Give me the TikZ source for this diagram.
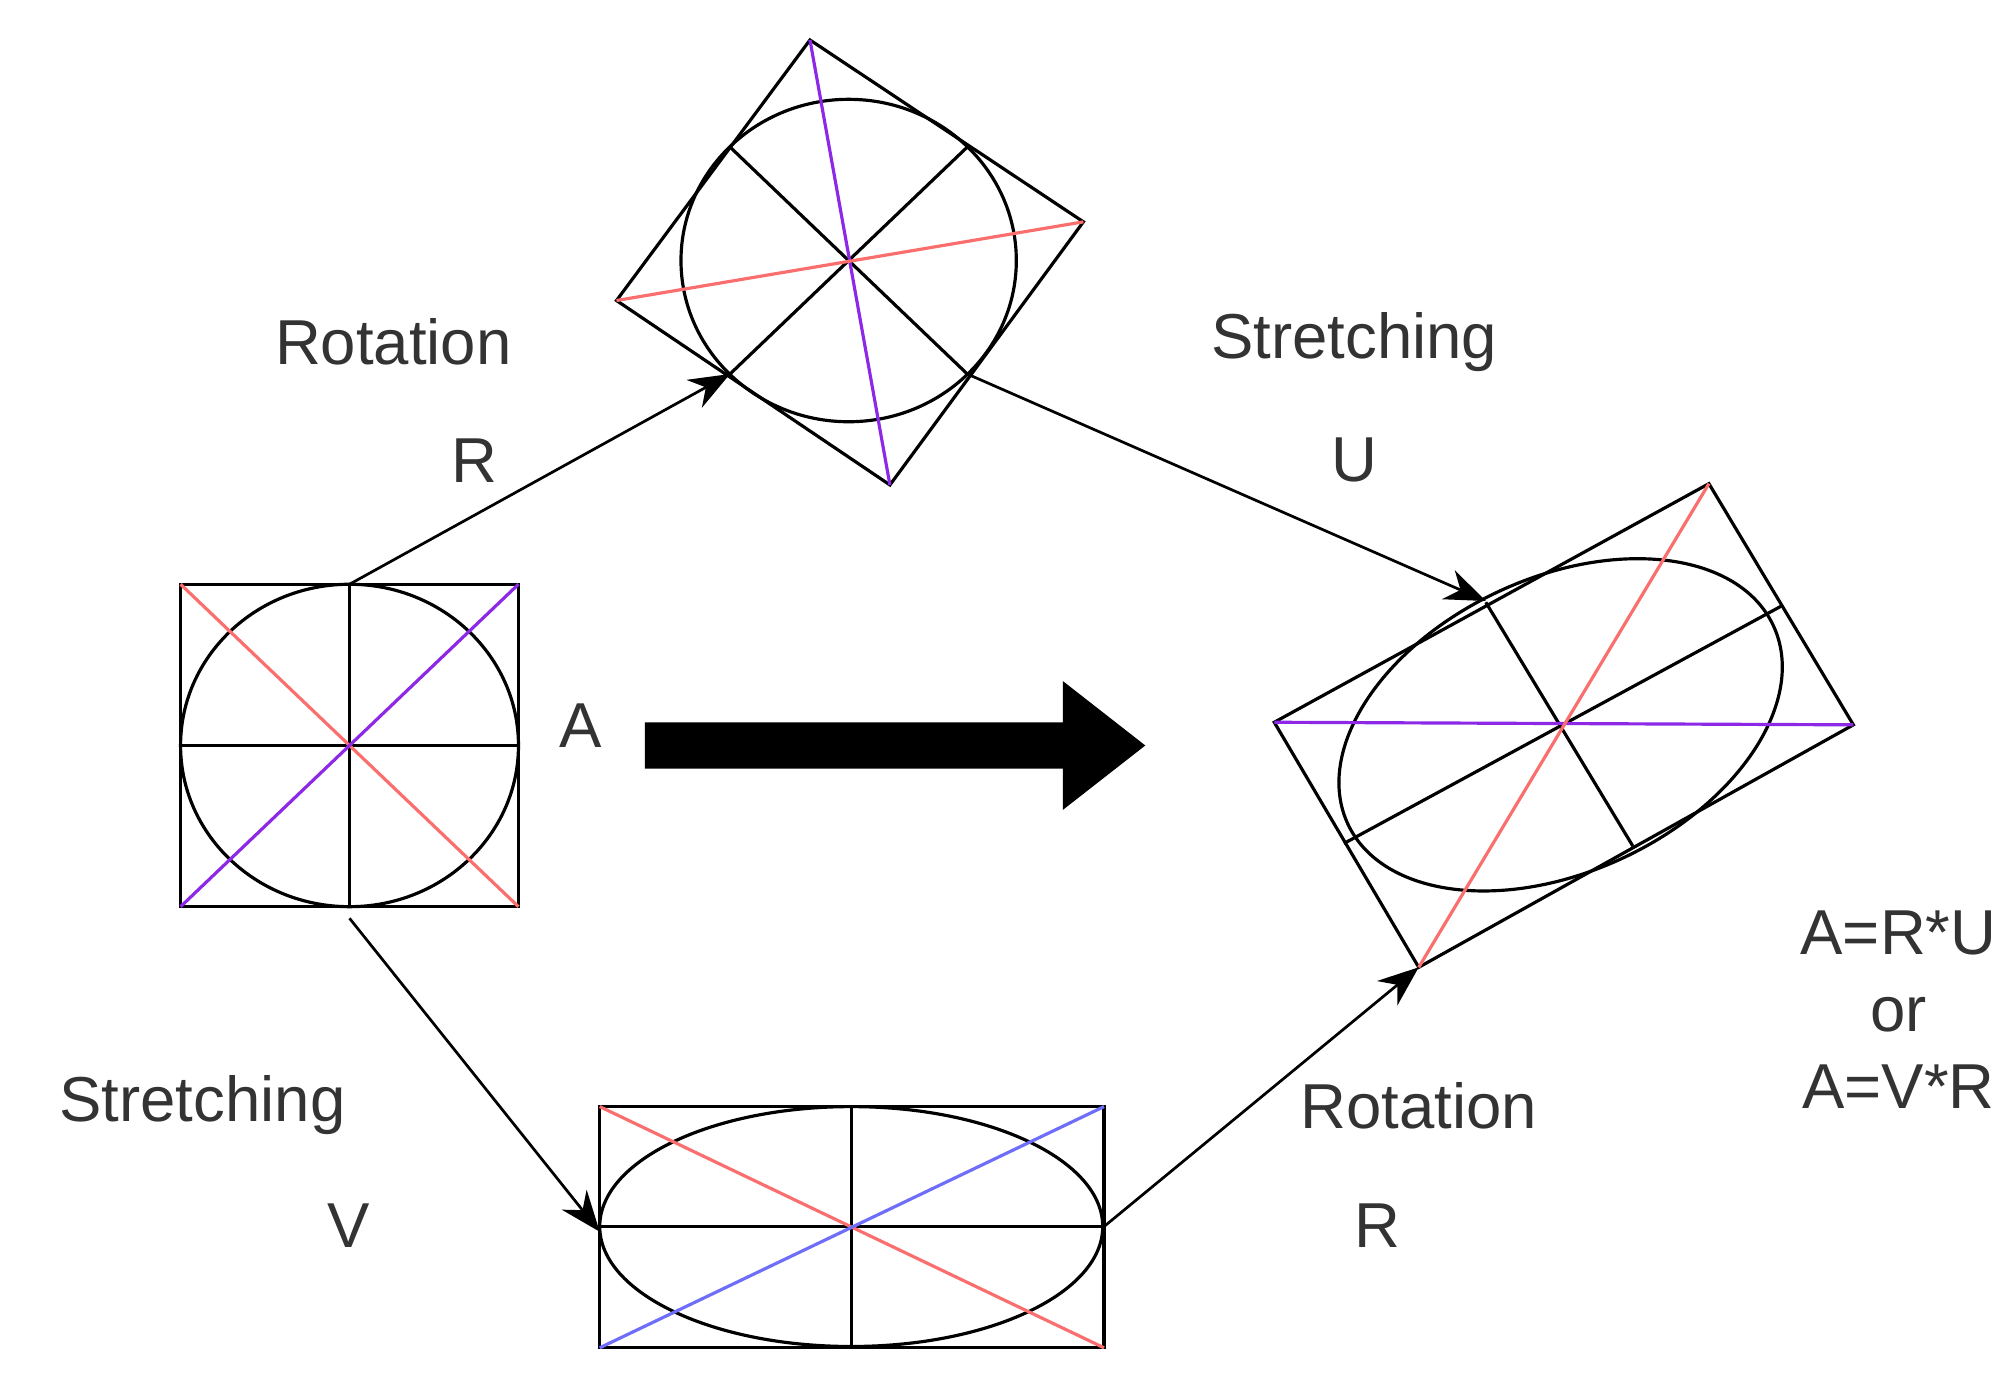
\documentclass[tikz,border=0pt]{standalone}
\usepackage{fontspec}
\setmainfont{Liberation Sans}
\usetikzlibrary{arrows.meta}
\definecolor{myred}{RGB}{250,110,110}
\definecolor{mypurple}{RGB}{140,40,230}
\definecolor{myblue}{RGB}{110,110,250}
\tikzset{
  shape line/.style={line width=0.7pt, black},
  flow/.style={line width=0.6pt, -{Stealth[length=9pt,width=7pt]}},
  lbl/.style={font=\fontsize{14}{17}\selectfont, text=black!80}
}
\begin{document}
\begin{tikzpicture}[x=0.01cm, y=-0.01cm]
    \useasboundingbox (0,0) rectangle (1560,1073);
    % Left square
    \coordinate (sq) at (271,578);
    \draw[shape line] (140,453) rectangle (402,703);
    \draw[shape line] (sq) ellipse [x radius=131, y radius=125];
    \draw[shape line] (271,453) -- (271,703);
    \draw[shape line] (140,578) -- (402,578);
    \draw[myred, line width=0.7pt] (140,453) -- (402,703);
    \draw[mypurple, line width=0.7pt] (140,703) -- (402,453);

    % Top rotated square
    \coordinate (rot) at (658,202);
    \draw[shape line] (628,31) -- (840,172) -- (690,376) -- (478,233) -- cycle;
    \draw[shape line] (rot) ellipse [x radius=130, y radius=125];
    \draw[shape line] (566,114) -- (750,290);
    \draw[shape line] (750,114) -- (566,290);
    \draw[mypurple, line width=0.7pt] (628,31) -- (690,376);
    \draw[myred, line width=0.7pt] (478,233) -- (840,172);

    % Right rotated rectangle
    \coordinate (res) at (1210,562);
    \draw[shape line] (1325,375) -- (1437,562) -- (1100,750) -- (988,560) -- cycle;
    \draw[shape line, rotate around={25:(res)}] (res) ellipse [x radius=182, y radius=114];
    \draw[shape line] (1152,467) -- (1266,656);
    \draw[shape line] (1381,470) -- (1042,654);
    \draw[mypurple, line width=0.7pt] (988,560) -- (1437,562);
    \draw[myred, line width=0.7pt] (1100,750) -- (1325,375);

    % Bottom rectangle
    \coordinate (str) at (660,951);
    \draw[shape line] (465,858) rectangle (856,1045);
    \draw[shape line] (str) ellipse [x radius=195, y radius=93];
    \draw[shape line] (660,858) -- (660,1045);
    \draw[shape line] (465,951) -- (856,951);
    \draw[myred, line width=0.7pt] (465,858) -- (856,1045);
    \draw[myblue, line width=0.7pt] (465,1045) -- (856,858);

    % Arrows
    \coordinate (a1) at (271,453); \coordinate (a2) at (566,290);
    \coordinate (b1) at (750,290); \coordinate (b2) at (1152,466);
    \coordinate (c1) at (271,712); \coordinate (c2) at (465,955);
    \coordinate (d1) at (856,951); \coordinate (d2) at (1100,750);
    \draw[flow] (a1) -- (a2);
    \draw[flow] (b1) -- (b2);
    \draw[flow] (c1) -- (c2);
    \draw[flow] (d1) -- (d2);

    % Big arrow
    \fill (500,560) -- (824,560) -- (824,528) -- (888,578) -- (824,628) -- (824,596) -- (500,596) -- cycle;

    % Labels
    \node[lbl] (rotR) at (305,265) {Rotation};
    \node[lbl] (rR) at (368,357) {R};
    \node[lbl] (strU) at (1050,265) {Stretching};
    \node[lbl] (uU) at (1050,357) {U};
    \node[lbl] (aA) at (450,563) {A};
    \node[lbl] (strV) at (157,857) {Stretching};
    \node[lbl] (vV) at (270,950) {V};
    \node[lbl] (rotR2) at (1100,857) {Rotation};
    \node[lbl] (rR2) at (1068,950) {R};
    \node[lbl, align=center] (eq) at (1472,783) {A=R*U\\or\\A=V*R};
\end{tikzpicture}
\end{document}
